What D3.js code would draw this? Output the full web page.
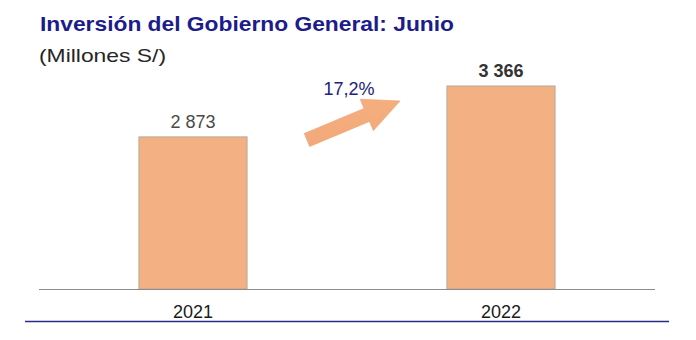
<!DOCTYPE html>
<html>
<head>
<meta charset="utf-8">
<script src="https://cdn.jsdelivr.net/npm/d3@7"></script>
<style>
  html, body { margin: 0; padding: 0; background: #ffffff; }
  svg { display: block; font-family: Arial, "Liberation Sans", sans-serif; }
</style>
</head>
<body>
<svg id="chart" width="696" height="340"></svg>
<script>
// Data
const years = ["2021", "2022"];
const values = [2873, 3366];
const valueLabels = ["2 873", "3 366"];
const growthLabel = "17,2%";

const svg = d3.select("#chart");

// Title block
svg.append("text")
  .attr("x", 40).attr("y", 31)
  .attr("font-size", 21).attr("font-weight", "bold")
  .attr("fill", "#1c1c8a")
  .attr("textLength", 414).attr("lengthAdjust", "spacingAndGlyphs")
  .text("Inversión del Gobierno General: Junio");

svg.append("text")
  .attr("x", 39).attr("y", 62)
  .attr("font-size", 19)
  .attr("fill", "#262626")
  .attr("textLength", 127).attr("lengthAdjust", "spacingAndGlyphs")
  .text("(Millones S/)");

// Scales
const x = d3.scaleBand().domain(years).range([39, 655]).paddingInner(0.649).paddingOuter(0.3245);
const y = d3.scaleLinear().domain([1400, 3366]).range([289, 86]);
const base = y.range()[0];

// Bars
svg.append("g").selectAll("rect").data(values).join("rect")
  .attr("x", (d, i) => x(years[i]))
  .attr("y", d => y(d))
  .attr("width", x.bandwidth())
  .attr("height", d => base - y(d))
  .attr("fill", "#f3b083")
  .attr("stroke", "#b8a898")
  .attr("stroke-width", 1);

// Value labels
svg.append("g").selectAll("text").data(values).join("text")
  .attr("x", (d, i) => x(years[i]) + x.bandwidth() / 2)
  .attr("y", d => y(d) - 9)
  .attr("text-anchor", "middle")
  .attr("font-size", 18)
  .attr("font-weight", (d, i) => i === 1 ? "bold" : "normal")
  .attr("fill", (d, i) => i === 1 ? "#333333" : "#4a4a4a")
  .text((d, i) => valueLabels[i]);

// Baseline axis
const xAxis = svg.append("g").attr("transform", `translate(0,${base})`)
  .call(d3.axisBottom(x).tickSize(0).tickPadding(16));
xAxis.select(".domain").attr("d", `M39,0.5H655`).attr("stroke", "#8c8c8c").attr("stroke-width", 1.2);
xAxis.selectAll(".tick text")
  .attr("font-size", 18).attr("fill", "#1a1a1a")
  .attr("font-family", "Arial, 'Liberation Sans', sans-serif");

// Bottom rule
svg.append("line")
  .attr("x1", 25).attr("x2", 669).attr("y1", 321.5).attr("y2", 321.5)
  .attr("stroke", "#2a2a8a").attr("stroke-width", 1.5);

// Growth arrow
const defs = svg.append("defs");
const grad = defs.append("linearGradient").attr("id", "arrowGrad")
  .attr("x1", "0%").attr("y1", "100%").attr("x2", "100%").attr("y2", "0%");
grad.append("stop").attr("offset", "0%").attr("stop-color", "#f2a878");
grad.append("stop").attr("offset", "100%").attr("stop-color", "#f5b080");

const tail = [307, 140];
const tip = [400, 101];
const ang = Math.atan2(tip[1] - tail[1], tip[0] - tail[0]);
const len = Math.hypot(tip[0] - tail[0], tip[1] - tail[1]);
const shaftW = 14, headW = 34, headL = 36;
const pts = [
  [0, -shaftW / 2], [len - headL, -shaftW / 2], [len - headL, -headW / 2],
  [len, 0], [len - headL, headW / 2], [len - headL, shaftW / 2], [0, shaftW / 2]
];
svg.append("path")
  .attr("d", d3.line()(pts) + "Z")
  .attr("transform", `translate(${tail[0]},${tail[1]}) rotate(${ang * 180 / Math.PI})`)
  .attr("fill", "url(#arrowGrad)")
  .attr("stroke", "#f0a070").attr("stroke-width", 0.6);

svg.append("text")
  .attr("x", 349).attr("y", 95)
  .attr("text-anchor", "middle")
  .attr("font-size", 18)
  .attr("fill", "#22227a")
  .text(growthLabel);
</script>
</body>
</html>
